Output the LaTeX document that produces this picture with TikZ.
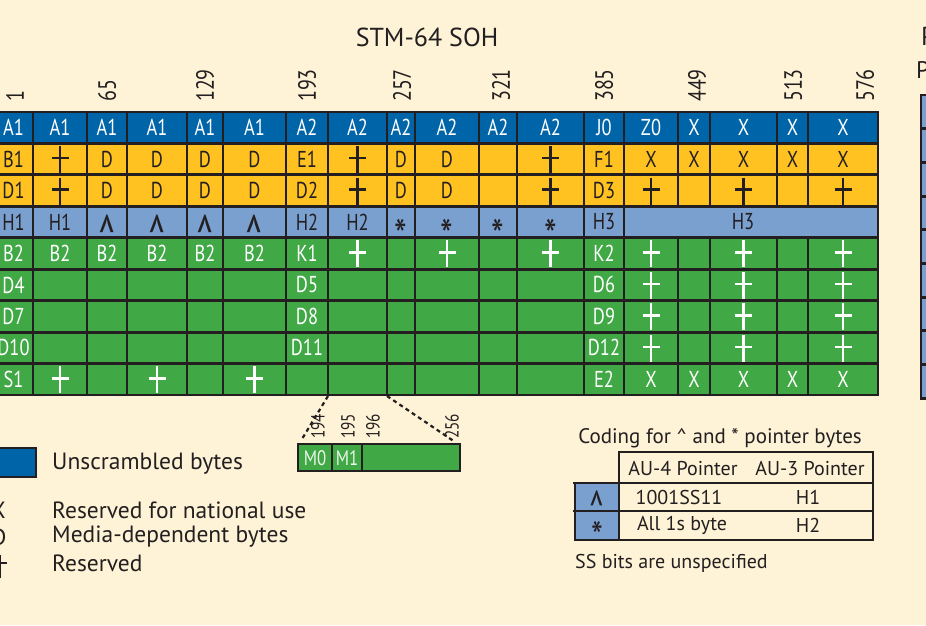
\documentclass[tikz,border=0pt]{standalone}
\usepackage{fontspec}
\setmainfont{PT Sans}
\newfontfamily\condfont[FakeStretch=0.8]{PT Sans}
\definecolor{cream}{RGB}{254,243,214}
\definecolor{ublue}{RGB}{0,101,168}
\definecolor{amber}{RGB}{255,194,32}
\definecolor{lblue}{RGB}{122,160,207}
\definecolor{ggreen}{RGB}{64,168,69}
\definecolor{ink}{RGB}{35,31,32}
\def\plusmark{+}
\def\blankmark{.}
% pointer marks, set large and centred on the cap height
\newcommand\caretmark[3]{\vphantom{H}\smash{\raisebox{-#3pt}{\scalebox{#1}[#2]{\fontsize{32}{32}\selectfont\textasciicircum}}}}
\newcommand\starmark[2]{\vphantom{H}\smash{\raisebox{-#2pt}{\scalebox{#1}{\fontsize{30}{30}\selectfont *}}}}

\begin{document}
\begin{tikzpicture}[x=1pt,y=-1pt,
  grid/.style={ink,line width=2.9,line cap=rect},
  cellA/.style={font=\condfont\fontsize{23}{24}\selectfont,inner sep=0},
  numlab/.style={font=\condfont\fontsize{25}{26}\selectfont,inner sep=0,rotate=90,anchor=west,ink},
  smallnum/.style={font=\condfont\fontsize{19}{20}\selectfont,inner sep=0,rotate=90,anchor=west,ink},
  legtext/.style={font=\fontsize{23.5}{26}\selectfont,inner sep=0,anchor=west,ink},
  tabtext/.style={font=\fontsize{20}{22}\selectfont,inner sep=0,ink},
  zoomline/.style={ink,line width=2.2,dash pattern=on 4pt off 3.5pt},
  rsv/.pic={\draw[line width=2.5] (0,-13) -- (0,14) (-8.5,-1) -- (8.5,-1);}]
\useasboundingbox (0,0) rectangle (926,625);
\fill[cream] (0,0) rectangle (926,625);
% title and byte numbers
\node[font=\fontsize{26}{28}\selectfont,inner sep=0,ink] (title) at (427,37) {STM-64 SOH};
\foreach \x/\n in {15/1,107/65,205/129,307/193,402/257,501/321,604/385,697/449,793/513,865/576}
  \node[numlab] (n\n) at (\x,102) {\n};
% column centres
\foreach \x [count=\c] in {13.5,60,107,157,205,254.5,307,357.5,401,447,498,550.5,604,651,694,743.5,792.5,843}
  \coordinate (k\c) at (\x,0);
% row bands
\fill[ublue] (-6,112) rectangle (878,143.44);
\fill[amber] (-6,143.44) rectangle (878,206.32);
\fill[lblue] (-6,206.32) rectangle (878,237.76);
\fill[ggreen] (-6,237.76) rectangle (878,395);
% grid
\foreach \i in {0,...,9}
  \draw[grid] (-6,{112+31.44*\i}) -- (878,{112+31.44*\i});
\foreach \x in {33,87,127,187,223,286,328,387,415,479,517,584,624,878}
  \draw[grid] (\x,112) -- (\x,395);
\foreach \x in {678,710,777,808}
  \draw[grid] (\x,112) -- (\x,206.32) (\x,237.76) -- (\x,395);
% cell contents
\foreach \r/\lst/\tc in {
  1/{A1,A1,A1,A1,A1,A1,A2,A2,A2,A2,A2,A2,J0,Z0,X,X,X,X}/white,
  2/{B1,+,D,D,D,D,E1,+,D,D,.,+,F1,X,X,X,X,X}/ink,
  3/{D1,+,D,D,D,D,D2,+,D,D,.,+,D3,+,.,+,.,+}/ink,
  4/{H1,H1,\caretmark{1.4}{2}{30.5},\caretmark{1.4}{2}{30.5},\caretmark{1.4}{2}{30.5},\caretmark{1.4}{2}{30.5},H2,H2,
     \starmark{1.5}{21.5},\starmark{1.5}{21.5},\starmark{1.5}{21.5},\starmark{1.5}{21.5},H3,.,.,.,.,.}/ink,
  5/{B2,B2,B2,B2,B2,B2,K1,+,.,+,.,+,K2,+,.,+,.,+}/white,
  6/{D4,.,.,.,.,.,D5,.,.,.,.,.,D6,+,.,+,.,+}/white,
  7/{D7,.,.,.,.,.,D8,.,.,.,.,.,D9,+,.,+,.,+}/white,
  8/{D10,.,.,.,.,.,D11,.,.,.,.,.,D12,+,.,+,.,+}/white,
  9/{S1,+,.,+,.,+,.,.,.,.,.,.,E2,X,X,X,X,X}/white}{
  \foreach \lab [count=\c] in \lst {
    \pgfmathsetmacro\ym{112+31.44*(\r-0.5)}
    \ifx\lab\plusmark
      \pic[color=\tc] at (k\c |- 0,\ym) {rsv};
    \else\ifx\lab\blankmark\else
      \node[cellA,text=\tc] (c\r-\c) at (k\c |- 0,\ym) {\lab};
    \fi\fi
  }
}
\node[cellA,text=ink] (h3wide) at (743,222) {H3};
% bytes 194 to 256
\coordinate (z1) at (328,396);
\coordinate (z2) at (387,396);
\fill[ggreen] (298,444) rectangle (460,471);
\draw[grid] (298,444) rectangle (460,471) (332,444) -- (332,471) (362,444) -- (362,471);
\node[cellA,font=\condfont\fontsize{21}{22}\selectfont,text=white!90!ggreen] (m0) at (315,458) {M0};
\node[cellA,font=\condfont\fontsize{21}{22}\selectfont,text=white!90!ggreen] (m1) at (347,458) {M1};
\foreach \x/\n in {318/194,348/195,373/196,452/256}
  \node[smallnum] (s\n) at (\x,439) {\n};
\coordinate (e1) at (302,439);
\coordinate (e2) at (455,442);
\draw[zoomline] (z1) -- (e1);
\draw[zoomline] (z2) -- (e2);
% legend
\draw[ink,line width=2.5,fill=ublue] (-4,448) rectangle (36,477);
\node[legtext] (l1) at (52,464) {Unscrambled bytes};
\node[legtext] (lx) at (-9,510) {X};
\node[legtext] (l2) at (52,510) {Reserved for national use};
\node[legtext] (ld) at (-9,537) {D};
\node[legtext] (l3) at (52,537) {Media-dependent bytes};
\draw[ink,line width=2.4] (0,555) -- (0,578) (-8,563) -- (7,563);
\node[legtext] (l4) at (52,563) {Reserved};
% pointer coding table
\node[tabtext,font=\fontsize{21}{22}\selectfont] (ctitle) at (720,438) {Coding for \textasciicircum{} and * pointer bytes};
\fill[lblue] (575,483) rectangle (619,540);
\draw[ink,line width=2.5] (619,452) rectangle (873,540) (573,483) -- (873,483) (573,511) -- (873,511)
  (575,483) -- (575,540) -- (619,540);
\node[tabtext,font=\condfont\fontsize{20}{22}\selectfont] (p1) at (597,497) {\caretmark{1.2}{1.7}{25}};
\node[tabtext,font=\condfont\fontsize{20}{22}\selectfont] (p2) at (597,525) {\starmark{1.4}{19}};
\node[tabtext] (au4) at (683,468) {AU-4 Pointer};
\node[tabtext] (au3) at (810,468) {AU-3 Pointer};
\node[tabtext] (v1) at (679,497) {1001SS11};
\node[tabtext] (w1) at (808,497) {H1};
\node[tabtext] (v2) at (682,525) {All 1s byte};
\node[tabtext] (w2) at (808,525) {H2};
\node[tabtext,anchor=west] (ssnote) at (575,563) {SS bits are unspecified};
% next figure, cut off at the edge
\node[font=\fontsize{26}{28}\selectfont,inner sep=0,anchor=west,ink] (nt1) at (921,36) {P};
\node[font=\fontsize{24}{26}\selectfont,inner sep=0,anchor=west,ink] (nt2) at (916,70) {P};
\foreach \i in {0,...,8}
  \draw[grid,fill=lblue] (921,{95+33.7*\i}) rectangle (950,{95+33.7*(\i+1)});
\end{tikzpicture}
\end{document}
